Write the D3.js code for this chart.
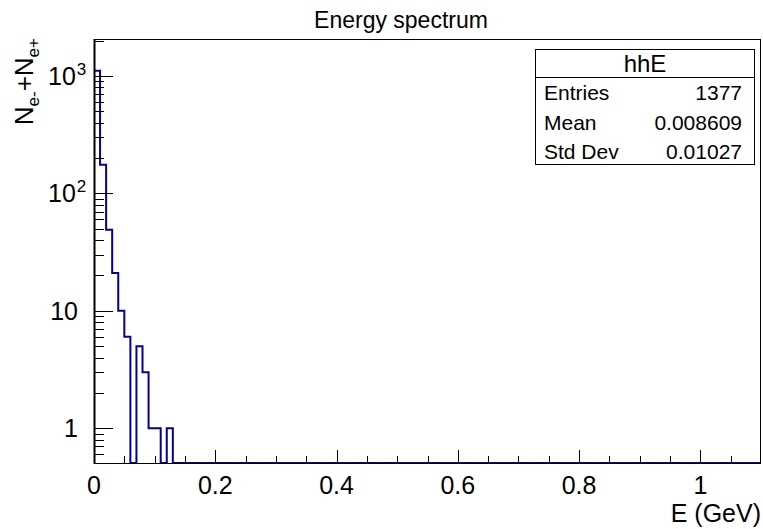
<!DOCTYPE html>
<html>
<head>
<meta charset="utf-8">
<script src="https://cdn.jsdelivr.net/npm/d3@7"></script>
<style>
  body { margin: 0; background: #fff; }
  svg text { font-family: "Liberation Sans", Arial, Helvetica, sans-serif; fill: #000; }
</style>
</head>
<body>
<div id="chart"></div>
<script>
// histogram hhE, bin width 0.01 GeV, bins after the last one listed are empty
var binLow = [0.00, 0.01, 0.02, 0.03, 0.04, 0.05, 0.06, 0.07, 0.08, 0.09, 0.10, 0.11, 0.12];
var counts = [1105, 175, 49, 21, 10, 6, 0, 5, 3, 1, 1, 0, 1];
var binWidth = 0.01;
var xRange = [0, 1.1];
var yRange = [0.506, 2063];

var xMajor = [0, 0.2, 0.4, 0.6, 0.8, 1];
var xMajorLabels = ["0", "0.2", "0.4", "0.6", "0.8", "1"];
var xMinor = [0.05, 0.1, 0.15, 0.25, 0.3, 0.35, 0.45, 0.5, 0.55, 0.65, 0.7, 0.75, 0.85, 0.9, 0.95, 1.05];
var yMajor = [1, 10, 100, 1000];
var yMajorBase = ["1", "10", "10", "10"];
var yMajorExp = ["", "", "2", "3"];
var yMinor = [0.6, 0.7, 0.8, 0.9, 2, 3, 4, 5, 6, 7, 8, 9, 20, 30, 40, 50, 60, 70, 80, 90,
              200, 300, 400, 500, 600, 700, 800, 900, 2000];

var statLabels = ["Entries", "Mean", "Std Dev"];
var statValues = ["1377", "0.008609", "0.01027"];

var W = 763, H = 529;
var frame = {left: 94, right: 761, top: 39, bottom: 463};

var svg = d3.select("#chart").append("svg")
    .attr("width", W)
    .attr("height", H);

var x = d3.scaleLinear().domain(xRange).range([frame.left, frame.right]);
var y = d3.scaleLog().domain(yRange).range([frame.bottom, frame.top]);

// histogram outline, empty bins sit on the frame bottom
function yOf(v) { return v > 0 ? y(v) : frame.bottom; }
var pts = [[x(xRange[0]), frame.bottom]];
binLow.forEach(function(b, i) {
  pts.push([x(b), yOf(counts[i])]);
  pts.push([x(b + binWidth), yOf(counts[i])]);
});
pts.push([x(binLow[binLow.length - 1] + binWidth), frame.bottom]);
pts.push([x(xRange[1]), frame.bottom]);

svg.append("clipPath").attr("id", "clipF")
  .append("rect")
  .attr("x", frame.left).attr("y", frame.top)
  .attr("width", frame.right - frame.left).attr("height", frame.bottom - frame.top + 1);

svg.append("path")
  .attr("clip-path", "url(#clipF)")
  .attr("d", d3.line()(pts))
  .attr("fill", "none")
  .attr("stroke", "#00009c")
  .attr("stroke-width", 2);

// frame
svg.append("rect")
  .attr("x", frame.left + 0.5).attr("y", frame.top + 0.5)
  .attr("width", frame.right - frame.left - 1).attr("height", frame.bottom - frame.top)
  .attr("fill", "none").attr("stroke", "#000").attr("stroke-width", 1);
svg.append("line")
  .attr("x1", frame.left + 0.5).attr("x2", frame.left + 0.5)
  .attr("y1", frame.top).attr("y2", frame.bottom + 1)
  .attr("stroke", "#000").attr("stroke-width", 2);

// x axis ticks
var gx = svg.append("g");
gx.selectAll("line.maj").data(xMajor).enter().append("line")
  .attr("x1", function(d) { return Math.round(x(d)) + 0.5; })
  .attr("x2", function(d) { return Math.round(x(d)) + 0.5; })
  .attr("y1", frame.bottom).attr("y2", frame.bottom - 13)
  .attr("stroke", "#000");
gx.selectAll("line.min").data(xMinor).enter().append("line")
  .attr("x1", function(d) { return Math.round(x(d)) + 0.5; })
  .attr("x2", function(d) { return Math.round(x(d)) + 0.5; })
  .attr("y1", frame.bottom).attr("y2", frame.bottom - 7)
  .attr("stroke", "#000");
gx.selectAll("text").data(xMajor).enter().append("text")
  .attr("x", function(d) { return x(d); })
  .attr("y", 494)
  .attr("text-anchor", "middle")
  .attr("font-size", 25)
  .text(function(d, i) { return xMajorLabels[i]; });

// y axis ticks
var gy = svg.append("g");
gy.selectAll("line.maj").data(yMajor).enter().append("line")
  .attr("x1", frame.left).attr("x2", frame.left + 19)
  .attr("y1", function(d) { return Math.round(y(d)) + 0.5; })
  .attr("y2", function(d) { return Math.round(y(d)) + 0.5; })
  .attr("stroke", "#000");
gy.selectAll("line.min").data(yMinor).enter().append("line")
  .attr("x1", frame.left).attr("x2", frame.left + 10)
  .attr("y1", function(d) { return Math.round(y(d)) + 0.5; })
  .attr("y2", function(d) { return Math.round(y(d)) + 0.5; })
  .attr("stroke", "#000");
var yl = gy.selectAll("text").data(yMajor).enter().append("text")
  .attr("y", function(d) { return y(d) + 9; })
  .attr("font-size", 25);
yl.each(function(d, i) {
  var t = d3.select(this);
  if (yMajorExp[i]) {
    t.attr("x", 48);
    t.append("tspan").text(yMajorBase[i]);
    t.append("tspan").attr("font-size", 17).attr("dy", -10).attr("dx", 1).text(yMajorExp[i]);
  } else {
    t.attr("x", 78).attr("text-anchor", "end").text(yMajorBase[i]);
  }
});

// titles
svg.append("text")
  .attr("x", 401).attr("y", 28)
  .attr("text-anchor", "middle")
  .attr("font-size", 23)
  .text("Energy spectrum");

svg.append("text")
  .attr("x", 761).attr("y", 522)
  .attr("text-anchor", "end")
  .attr("font-size", 25)
  .text("E (GeV)");

var yt = svg.append("text")
  .attr("transform", "translate(33,38) rotate(-90)")
  .attr("text-anchor", "end")
  .attr("font-size", 26);
yt.append("tspan").text("N");
yt.append("tspan").attr("font-size", 17).attr("dy", 6).text("e-");
yt.append("tspan").attr("dy", -6).text("+N");
yt.append("tspan").attr("font-size", 17).attr("dy", 6).text("e+");

// stats box
var box = {x: 535, y: 49, w: 219, h: 115, head: 28};
var gs = svg.append("g");
gs.append("rect")
  .attr("x", box.x + 0.5).attr("y", box.y + 0.5)
  .attr("width", box.w).attr("height", box.h)
  .attr("fill", "#fff").attr("stroke", "#000");
gs.append("line")
  .attr("x1", box.x).attr("x2", box.x + box.w)
  .attr("y1", box.y + box.head + 0.5).attr("y2", box.y + box.head + 0.5)
  .attr("stroke", "#000");
gs.append("text")
  .attr("x", box.x + box.w / 2 + 0.5).attr("y", box.y + 23)
  .attr("text-anchor", "middle")
  .attr("font-size", 24)
  .text("hhE");
statLabels.forEach(function(s, i) {
  gs.append("text")
    .attr("x", box.x + 9).attr("y", box.y + 51 + i * 29.5)
    .attr("font-size", 21)
    .text(s);
  gs.append("text")
    .attr("x", box.x + box.w - 12).attr("y", box.y + 51 + i * 29.5)
    .attr("text-anchor", "end")
    .attr("font-size", 21)
    .text(statValues[i]);
});
</script>
</body>
</html>
